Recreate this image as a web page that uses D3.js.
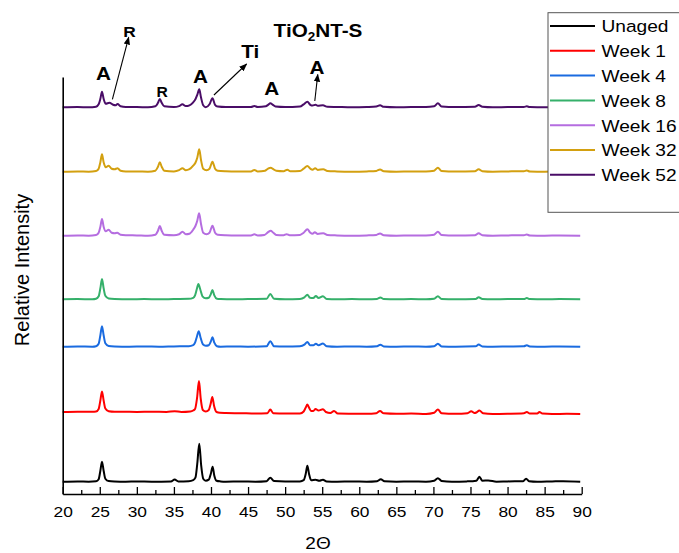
<!DOCTYPE html>
<html><head><meta charset="utf-8">
<script src="https://cdn.jsdelivr.net/npm/d3@7"></script>
<style>
html,body{margin:0;padding:0;background:#fff;}
svg{display:block;font-family:"Liberation Sans",Arial,sans-serif;}
</style></head>
<body>
<svg id="chart" width="679" height="553"></svg>
<script>
// ---- data (2θ, relative intensity above each pattern's own baseline) ----
const seriesNames = ["Unaged","Week 1","Week 4","Week 8","Week 16","Week 32","Week 52"];
const colors = ["#000000","#ff0000","#1a6be0","#35b06a","#b56de0","#d3a010","#4a0d67"];
const offsets = [12.3, 82, 147.3, 194.7, 258.3, 322.3, 386.7];
const xTicks = [20,25,30,35,40,45,50,55,60,65,70,75,80,85,90];
const xMinorTicks = [22.5,27.5,32.5,37.5,42.5,47.5,52.5,57.5,62.5,67.5,72.5,77.5,82.5,87.5];

const unaged = [[20,0],[22,0.3],[23.5,0],[24.5,0.4],[24.85,2.5],[25.08,11],[25.3,20],[25.52,11],[25.75,3],[26.2,0.6],[27,0.2],[28.5,0],[30,0.3],[32,0],[34.6,0.2],[35.1,2.2],[35.6,0.3],[37,0.5],[37.6,1.5],[37.9,4],[38.15,18],[38.42,38],[38.68,16],[38.95,3],[39.3,1],[39.7,2],[39.98,8],[40.22,15],[40.45,6],[40.75,1],[41.3,0.3],[42,0],[44,0.3],[46,0],[47.5,0.5],[48.0,4],[48.5,0.6],[50,0.2],[52,0.3],[52.5,1.5],[52.78,8],[53.0,16],[53.22,8],[53.5,1.5],[54.1,2],[54.6,1],[55.1,2],[55.6,0.3],[57,0],[59,0.3],[61,0],[62.4,0.5],[62.9,2.5],[63.4,0.4],[65,0],[67,0.3],[69,0],[70.1,1],[70.6,3.5],[71.1,0.8],[72.5,0],[74.5,0.3],[75.8,1],[76.2,5],[76.6,1],[77.4,1.2],[78.5,0],[80,0.3],[82.1,0.5],[82.5,3],[82.9,0.5],[84,0],[86,0.3],[87.5,0.5],[89.8,0]];
const week1 = [[20,0],[22,0.3],[24,0.2],[24.5,0.5],[24.85,3],[25.08,11.5],[25.3,20.5],[25.52,11.5],[25.75,3.5],[26.2,0.8],[27,0.3],[28,0.3],[30,0],[32,0.3],[34,0],[35.1,0.8],[36,0],[37.2,0.5],[37.6,1.5],[37.85,3],[38.12,14],[38.38,31],[38.62,13],[38.9,2],[39.3,0.5],[39.7,2],[39.95,8],[40.18,15],[40.42,6],[40.75,0],[41.2,-0.8],[42,-1],[44,-1.2],[46,-1.5],[47.6,-1.3],[48.0,2.5],[48.4,-1.2],[50,-1.5],[52,-1.5],[52.5,0.5],[52.78,4.5],[53.0,7.5],[53.25,4],[53.5,1],[53.8,1],[54.1,3],[54.5,1.5],[55.1,2.8],[55.5,0],[56.1,-1],[56.6,1],[57.1,-1.5],[59,-1.7],[61,-1.8],[62.3,-1.2],[62.8,1],[63.3,-1.3],[65,-1.8],[67,-1.6],[69,-2],[70.1,-0.8],[70.6,2.5],[71.1,-1.2],[73,-1.8],[74.6,-1.2],[75.1,0.8],[75.5,-1],[75.8,-0.5],[76.2,1.5],[76.7,-1.2],[78,-2],[80,-1.8],[82.2,-1.3],[82.6,0],[83,-1.5],[84,-1.5],[84.3,0],[84.7,-1.6],[86,-2],[88,-1.8],[89.8,-2]];
const week4 = [[20,0],[22,0.3],[24,0],[24.5,0.5],[24.85,3],[25.08,11.5],[25.3,20.5],[25.52,11.5],[25.75,3.5],[26.2,0.8],[27,0.3],[29,0],[31,0.3],[33,0],[35,0.3],[37,0.5],[37.6,1.5],[37.85,4],[38.1,10],[38.35,15.5],[38.6,9],[38.9,2.5],[39.3,1],[39.7,1.5],[39.97,5],[40.2,9.5],[40.45,4],[40.8,0.5],[41.3,0],[43,0.3],[45,0],[47.5,0.5],[48.0,5.5],[48.5,0.5],[50,0.2],[52,0.5],[52.6,2],[53.0,4.7],[53.35,1.5],[53.8,1.5],[54.15,3],[54.5,1.5],[55.1,3.3],[55.6,0.5],[57,0],[59,0.2],[61,0],[62.4,0.5],[62.85,2],[63.3,0.3],[65,0],[67,0.3],[69,0],[70.1,0.5],[70.6,3],[71.1,0.3],[73,0],[75.7,0.4],[76.1,2.2],[76.6,0.3],[78,0],[80,0.2],[82.2,0.4],[82.6,1.5],[83,0.2],[85,0],[87,0.2],[89.8,0]];
const week8 = [[20,0],[22,0.2],[24,0],[24.5,0.5],[24.85,3],[25.08,11],[25.3,20.3],[25.52,11],[25.75,3.5],[26.2,0.8],[27,0.3],[29,0],[31,0.2],[33,0],[35,0.3],[37,0.5],[37.6,1.5],[37.85,4],[38.08,10],[38.3,15.3],[38.55,10],[38.85,3],[39.3,1],[39.7,1.5],[39.97,5],[40.2,9.3],[40.45,4],[40.8,0.5],[41.3,0.2],[43,0],[45,0.3],[47.5,0.5],[48.0,5.3],[48.5,0.5],[50,0],[52,0.4],[52.6,2],[53.0,4.6],[53.35,1.5],[53.8,1.3],[54.15,3.3],[54.5,1.3],[55.1,3],[55.6,0.4],[57,0],[59,0.3],[61,0],[62.4,0.4],[62.85,1.8],[63.3,0.3],[65,0],[67,0.2],[69,0],[70.1,0.5],[70.6,3],[71.1,0.3],[73,0],[75.7,0.4],[76.1,2],[76.6,0.3],[78,0],[80,0.3],[82.2,0.3],[82.6,1.2],[83,0.2],[85,0],[87,0.2],[89.8,0]];
const week16 = [[20,0],[22,0.3],[23.5,0],[24.5,0.6],[24.85,3],[25.08,9],[25.3,16.7],[25.52,9],[25.8,4.5],[26.2,6],[26.6,3],[27.0,2.5],[27.35,3],[27.8,1],[28.5,0.5],[30,0.3],[31.5,0],[32.5,1],[32.85,5],[33.1,9.7],[33.35,5],[33.7,1],[35,0.5],[35.7,1.5],[36.15,4],[36.6,1.5],[37.1,2],[37.6,6],[37.9,9.7],[38.15,15],[38.4,22.4],[38.65,12],[38.95,3],[39.4,1.5],[39.8,3],[40.2,10],[40.55,3],[40.9,1],[42,0.5],[43.5,0.3],[45.4,0.3],[45.85,1.5],[46.3,0.3],[47.2,0.8],[47.7,3.5],[48.05,5],[48.4,3],[48.8,0.8],[49.8,0.5],[50.2,1.5],[50.6,0.5],[52,0.8],[52.5,3],[53.0,6.4],[53.4,3],[53.7,2],[54.0,3.4],[54.4,1.8],[55.15,2.4],[55.7,0.8],[57,0.3],[59,0],[61,0.3],[62.3,0.8],[62.8,2.2],[63.3,0.5],[65,0],[67,0.3],[69,0.3],[70.1,1],[70.6,4],[71.1,0.8],[73,0.2],[75.6,0.5],[76.1,2.5],[76.6,0.5],[78,0],[80,0.3],[82.2,0.4],[82.6,1.2],[83,0.2],[85,0],[87,0.2],[89.8,0]];
const week32 = [[20,0],[22,0.3],[23.5,0],[24.5,0.6],[24.85,3],[25.08,9.5],[25.3,17.4],[25.52,9.5],[25.8,4.5],[26.2,6],[26.6,3],[27.0,2.5],[27.4,3.4],[27.8,1],[28.5,0.3],[30,0.3],[31.5,0],[32.5,1],[32.85,5],[33.1,9.4],[33.35,5],[33.7,1],[35,0.3],[35.7,1.5],[36.15,3.4],[36.6,1.5],[37.1,2.5],[37.6,6],[37.9,9],[38.15,14],[38.42,22.4],[38.65,12],[38.95,3],[39.4,1.5],[39.8,3],[40.2,10],[40.55,3],[40.9,1],[42,0.5],[43.5,0.3],[45.4,0.3],[45.85,1.7],[46.3,0.3],[47.3,1],[47.7,3],[48.05,4],[48.4,2.5],[48.8,1],[49.8,0.5],[50.3,2],[50.7,0.5],[52,0.8],[52.5,3],[53.0,5.7],[53.4,3],[53.7,2],[54.05,3.4],[54.4,1.8],[55.15,2.4],[55.7,0.8],[57,0.3],[59,0],[61,0.3],[62.3,0.8],[62.8,2.2],[63.3,0.5],[65,0],[67,0.3],[69,0.3],[70.1,1],[70.6,4],[71.1,0.8],[73,0.2],[75.6,0.5],[76.1,2.5],[76.6,0.5],[78,0],[80,0.3],[82.2,0.4],[82.6,1.2],[83,0.2],[85,0],[87,0.2],[89.8,0]];
const week52 = [[20,0],[22,0.3],[23.5,0],[24.5,0.6],[24.85,3],[25.08,8.5],[25.3,15.6],[25.52,8.5],[25.8,3.5],[26.3,4.6],[26.8,2.5],[27.1,2],[27.4,3.3],[27.8,1],[28.5,0.3],[30,0.3],[31.5,0],[32.5,1],[32.85,4.5],[33.1,8.3],[33.35,4.5],[33.7,1],[35,0.3],[35.7,1.2],[36.15,3],[36.6,1.2],[37.1,2],[37.6,5],[37.9,8],[38.15,12.5],[38.42,18],[38.65,10],[38.95,2],[39.3,0],[39.8,3],[40.2,9],[40.55,2.5],[40.9,0.8],[42,0.3],[43.5,0.3],[45.4,0.3],[45.85,1.3],[46.3,0.3],[47.4,1],[47.7,2.5],[48.0,4],[48.35,2.5],[48.7,0.8],[50,0.3],[52,0.8],[52.5,3],[53.0,5.6],[53.4,2.5],[53.7,1.8],[54.1,2.6],[54.4,1.5],[55.1,2],[55.7,0.5],[57,0.3],[59,0],[61,0.3],[62.3,0.8],[62.8,2],[63.3,0.5],[65,0],[67,0.3],[69,0.3],[70.1,1],[70.6,4],[71.1,0.8],[73,0.2],[75.6,0.5],[76.1,2.3],[76.6,0.5],[78,0],[80,0.3],[82.2,0.4],[82.6,1],[83,0.2],[85,0],[87,0.2],[89.8,0]];
const allSeries = [unaged, week1, week4, week8, week16, week32, week52];

// phase labels: [text, 2θ, intensity-position]
const phaseLabels = [["A",25.5,414],["A",38.6,411],["A",48.2,399],["A",54.3,420]];

// ---- layout ----
const svg = d3.select("#chart");
const x = d3.scaleLinear().domain([20, 90]).range([62.7, 581.7]);
const y = d3.scaleLinear().domain([0, 417]).range([494, 77]);
const SX = 1.12;

// series
const line = d3.line().x(d => x(d[0])).y(d => d[2]).curve(d3.curveMonotoneX);
allSeries.forEach((s, i) => {
  const pts = s.map(d => [d[0], d[1], y(d[1] + offsets[i])]);
  svg.append("path").attr("d", line(pts)).attr("fill", "none")
    .attr("stroke", colors[i]).attr("stroke-width", 2).attr("stroke-linejoin", "round");
});

// axes
const xAxis = d3.axisBottom(x).tickValues(xTicks).tickSizeInner(-7).tickSizeOuter(0).tickPadding(12);
const gx = svg.append("g").attr("transform", "translate(0,494)").call(xAxis);
gx.select(".domain").attr("stroke-width", 1.6).attr("stroke", "#000");
gx.selectAll(".tick line").attr("stroke-width", 1.3).attr("stroke", "#000");
gx.selectAll(".tick text").attr("font-size", 15.5).attr("fill", "#000")
  .attr("font-family", "'Liberation Sans', Arial, sans-serif").attr("transform", `scale(${SX},1)`);
const xMinor = d3.axisBottom(x).tickValues(xMinorTicks).tickSizeInner(-4).tickSizeOuter(0).tickFormat("");
const gxm = svg.append("g").attr("transform", "translate(0,494)").call(xMinor);
gxm.select(".domain").remove();
gxm.selectAll(".tick line").attr("stroke-width", 1.3).attr("stroke", "#000");

const yAxis = d3.axisLeft(y).tickValues([]).tickSizeOuter(0);
const gy = svg.append("g").attr("transform", "translate(62.7,0)").call(yAxis);
gy.select(".domain").attr("stroke-width", 1.6).attr("stroke", "#000");

function stext(txt, px, py, size, opts = {}) {
  const t = svg.append("text")
    .attr("transform", `translate(${px},${py}) scale(${opts.sx || SX},1)`)
    .attr("text-anchor", opts.anchor || "middle")
    .attr("font-size", size)
    .attr("font-weight", opts.bold ? "bold" : "normal")
    .attr("fill", "#000");
  return t.text(txt);
}

// axis titles
stext("2Θ", 318, 549, 17);
svg.append("text").attr("transform", "translate(29,270) rotate(-90)")
  .attr("text-anchor", "middle").attr("font-size", 20).attr("fill", "#000")
  .text("Relative Intensity");

// chart title TiO2NT-S
const title = svg.append("text").attr("transform", `translate(318,37) scale(${SX},1)`)
  .attr("text-anchor", "middle").attr("font-size", 18.5).attr("font-weight", "bold");
title.append("tspan").text("TiO");
title.append("tspan").attr("font-size", 12).attr("dy", 4).text("2");
title.append("tspan").attr("dy", -4).text("NT-S");

// phase labels
phaseLabels.forEach(d => stext(d[0], x(d[1]), y(d[2]), 18.5, {bold: true}));
stext("R", x(29.0), y(457.3), 15.5, {bold: true});
stext("R", x(33.4), y(397.3), 14, {bold: true});
stext("Ti", x(45.3), y(436), 18.5, {bold: true});

// arrows
const defs = svg.append("defs");
defs.append("marker").attr("id", "ah").attr("viewBox", "0 0 10 10").attr("refX", 9).attr("refY", 5)
  .attr("markerWidth", 8).attr("markerHeight", 8).attr("markerUnits", "userSpaceOnUse").attr("orient", "auto")
  .append("path").attr("d", "M0,1 L10,5 L0,9 Z").attr("fill", "#000");
const arrows = [[26.7, 394.7, 28.9, 456.7], [40.4, 399, 44.8, 430], [54.0, 393, 54.4, 419.5]];
arrows.forEach(a => {
  svg.append("line").attr("x1", x(a[0])).attr("y1", y(a[1])).attr("x2", x(a[2])).attr("y2", y(a[3]))
    .attr("stroke", "#000").attr("stroke-width", 1.1).attr("marker-end", "url(#ah)");
});

// legend
const lg = svg.append("g");
lg.append("rect").attr("x", 548).attr("y", 12.7).attr("width", 150).attr("height", 199.6)
  .attr("fill", "#fff").attr("stroke", "#555").attr("stroke-width", 1);
seriesNames.forEach((n, i) => {
  const yy = 26 + i * 24.8;
  lg.append("line").attr("x1", 550).attr("x2", 595).attr("y1", yy).attr("y2", yy)
    .attr("stroke", colors[i]).attr("stroke-width", 2);
  lg.append("text").attr("transform", `translate(601.5,${yy + 6.4}) scale(1.1,1)`)
    .attr("font-size", 17.4).attr("fill", "#000").text(n);
});
</script>
</body></html>
